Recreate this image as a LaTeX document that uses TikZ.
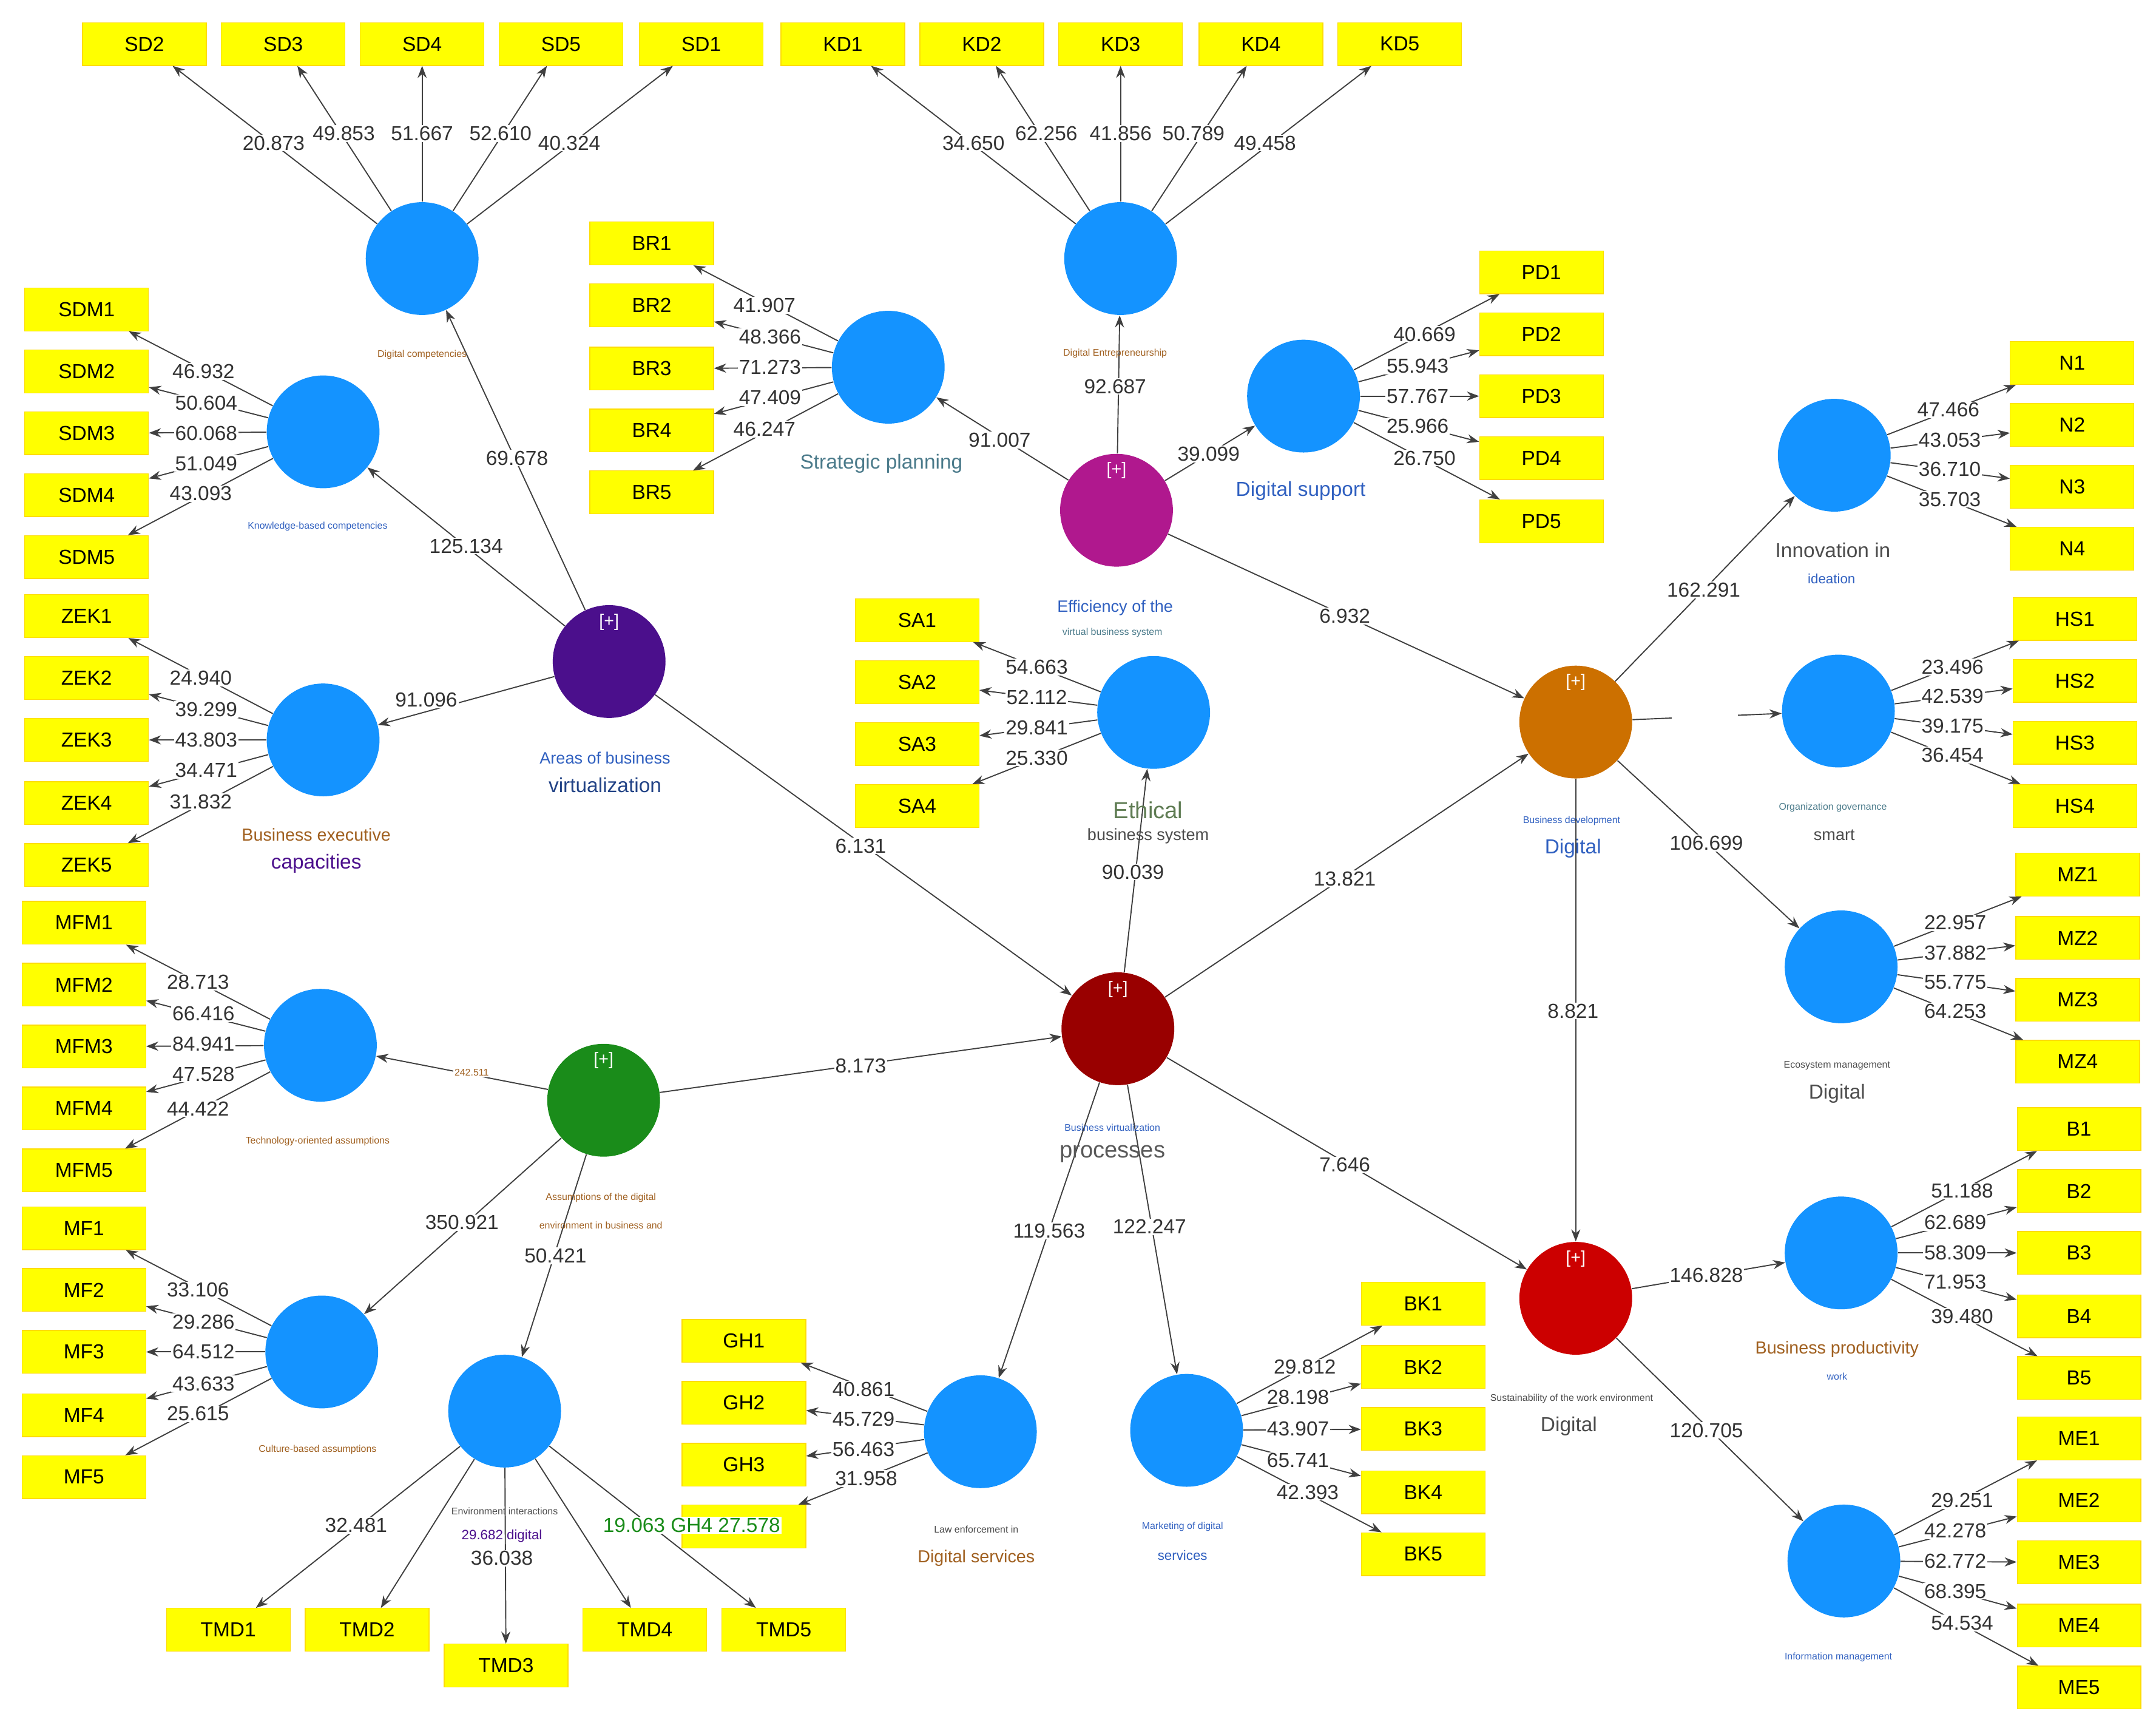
\documentclass[tikz,border=0pt]{standalone}
\usepackage{fontspec}
\setmainfont{Liberation Sans}
\usetikzlibrary{arrows.meta}
\definecolor{lvblue}{HTML}{1493FF}
\definecolor{effmag}{HTML}{B0188E}
\definecolor{areapur}{HTML}{4B0F8C}
\definecolor{bdorange}{HTML}{CC7000}
\definecolor{bvpred}{HTML}{990000}
\definecolor{asmgreen}{HTML}{1A8C1A}
\definecolor{susred}{HTML}{CC0000}
\definecolor{txtbrown}{HTML}{A06020}
\definecolor{txtblue}{HTML}{3060C0}
\definecolor{txtteal}{HTML}{4A7A8A}
\definecolor{boxyel}{HTML}{FFFF00}

\begin{document}
\begin{tikzpicture}
        [x=0.025cm, y=-0.025cm,
         lv/.style={circle,
                    inner sep=0pt,
                    minimum size=2.05cm,
                    fill=lvblue},
         mv/.style={rectangle,
                    inner sep=0pt,
                    minimum width=2.25cm,
                    minimum height=0.78cm,
                    draw=yellow!80!orange,
                    fill=boxyel,
                    font=\fontsize{10.5}{12}\selectfont},
         num/.style={fill=white, inner sep=0.6pt, font=\fontsize{10.5}{12}\selectfont, text=black!80},
         tiny lbl/.style={font=\fontsize{5}{6}\selectfont},
         big lbl/.style={font=\fontsize{10.5}{12}\selectfont},
         plus/.style={text=white, font=\fontsize{9}{10}\selectfont},
         arr/.style={-{Stealth[length=2.2mm]}, black!75, semithick}]

        \useasboundingbox (0,0) rectangle (1568,1256);

        % latent variables
        \node[lv] (DC) at (307,188) {};
        \node[lv] (KDE) at (815,188) {};
        \node[lv] (SP) at (646,267) {};
        \node[lv] (DS) at (948,288) {};
        \node[lv] (KBC) at (235,314) {};
        \node[lv, fill=effmag] (EFF) at (812,371) {};
        \node[lv, fill=areapur] (AREA) at (443,481) {};
        \node[lv] (INN) at (1334,331) {};
        \node[lv] (ETH) at (839,518) {};
        \node[lv, fill=bdorange] (BD) at (1146,525) {};
        \node[lv] (ORG) at (1337,517) {};
        \node[lv] (BEC) at (235,538) {};
        \node[lv] (ECO) at (1339,703) {};
        \node[lv, fill=bvpred] (BVP) at (813,748) {};
        \node[lv] (TECH) at (233,760) {};
        \node[lv, fill=asmgreen] (ASM) at (439,800) {};
        \node[lv, fill=susred] (SUS) at (1146,944) {};
        \node[lv] (BPR) at (1339,911) {};
        \node[lv] (CUL) at (234,983) {};
        \node[lv] (ENV) at (367,1026) {};
        \node[lv] (LAW) at (713,1041) {};
        \node[lv] (MKT) at (863,1040) {};
        \node[lv] (INF) at (1341,1135) {};

        % [+] marks
        \foreach \c in {EFF, AREA, BD, BVP, ASM, SUS}
                \node[plus] at ([yshift=0.72cm]\c.center) {[+]};

        % indicators
        \foreach \n/\x in {2/105, 3/206, 4/307, 5/408, 1/510}
                \node[mv] (SD\n) at (\x,32) {SD\n};
        \foreach \n/\x in {1/613, 2/714, 3/815, 4/917, 5/1018}
                \node[mv] (KD\n) at (\x,32) {KD\n};
        \foreach \n/\y in {1/177, 2/222, 3/268, 4/313, 5/358}
                \node[mv] (BR\n) at (474,\y) {BR\n};
        \foreach \n/\y in {1/198, 2/243, 3/288, 4/333, 5/379}
                \node[mv] (PD\n) at (1121,\y) {PD\n};
        \foreach \n/\y in {1/225, 2/270, 3/315, 4/360, 5/405}
                \node[mv] (SDM\n) at (63,\y) {SDM\n};
        \foreach \n/\y in {1/264, 2/309, 3/354, 4/399}
                \node[mv] (N\n) at (1507,\y) {N\n};
        \foreach \n/\y in {1/451, 2/496, 3/541, 4/586}
                \node[mv] (SA\n) at (667,\y) {SA\n};
        \foreach \n/\y in {1/450, 2/495, 3/540, 4/586}
                \node[mv] (HS\n) at (1509,\y) {HS\n};
        \foreach \n/\y in {1/448, 2/493, 3/538, 4/584, 5/629}
                \node[mv] (ZEK\n) at (63,\y) {ZEK\n};
        \foreach \n/\y in {1/636, 2/682, 3/727, 4/772}
                \node[mv] (MZ\n) at (1511,\y) {MZ\n};
        \foreach \n/\y in {1/671, 2/716, 3/761, 4/806, 5/851}
                \node[mv] (MFM\n) at (61,\y) {MFM\n};
        \foreach \n/\y in {1/821, 2/866, 3/911, 4/957, 5/1002}
                \node[mv] (B\n) at (1512,\y) {B\n};
        \foreach \n/\y in {1/893, 2/938, 3/983, 4/1029, 5/1074}
                \node[mv] (MF\n) at (61,\y) {MF\n};
        \foreach \n/\y in {1/948, 2/994, 3/1039, 4/1085, 5/1130}
                \node[mv] (BK\n) at (1035,\y) {BK\n};
        \foreach \n/\y in {1/975, 2/1020, 3/1065}
                \node[mv] (GH\n) at (541,\y) {GH\n};
        \node[mv] (GH4) at (541,1110) {};
        \foreach \n/\y in {1/1046, 2/1091, 3/1136, 4/1182, 5/1227}
                \node[mv] (ME\n) at (1512,\y) {ME\n};
        \foreach \n/\x/\y in {1/166/1185, 2/267/1185, 3/368/1211, 4/469/1185, 5/570/1185}
                \node[mv] (TMD\n) at (\x,\y) {TMD\n};

        % outer loadings
        \foreach \n/\x/\y/\v in {2/199/104/20.873, 3/250/97/49.853, 4/307/97/51.667, 5/364/97/52.610, 1/414/104/40.324}
                {\draw[arr] (DC) -- (SD\n); \node[num] at (\x,\y) {\v};}
        \foreach \n/\x/\y/\v in {1/708/104/34.650, 2/761/97/62.256, 3/815/97/41.856, 4/868/97/50.789, 5/920/104/49.458}
                {\draw[arr] (KDE) -- (KD\n); \node[num] at (\x,\y) {\v};}
        \foreach \n/\x/\y/\v in {1/556/222/41.907, 2/560/245/48.366, 3/560/267/71.273, 4/560/289/47.409, 5/556/312/46.247}
                {\draw[arr] (SP) -- (BR\n); \node[num] at (\x,\y) {\v};}
        \foreach \n/\x/\y/\v in {1/1036/243/40.669, 2/1031/266/55.943, 3/1031/288/57.767, 4/1031/310/25.966, 5/1036/333/26.750}
                {\draw[arr] (DS) -- (PD\n); \node[num] at (\x,\y) {\v};}
        \foreach \n/\x/\y/\v in {1/148/270/46.932, 2/150/293/50.604, 3/150/315/60.068, 4/150/337/51.049, 5/146/359/43.093}
                {\draw[arr] (KBC) -- (SDM\n); \node[num] at (\x,\y) {\v};}
        \foreach \n/\x/\y/\v in {1/1417/298/47.466, 2/1418/320/43.053, 3/1418/341/36.710, 4/1418/363/35.703}
                {\draw[arr] (INN) -- (N\n); \node[num] at (\x,\y) {\v};}
        \foreach \n/\x/\y/\v in {1/754/485/54.663, 2/754/507/52.112, 3/754/529/29.841, 4/754/551/25.330}
                {\draw[arr] (ETH) -- (SA\n); \node[num] at (\x,\y) {\v};}
        \foreach \n/\x/\y/\v in {1/1420/485/23.496, 2/1420/506/42.539, 3/1420/528/39.175, 4/1420/549/36.454}
                {\draw[arr] (ORG) -- (HS\n); \node[num] at (\x,\y) {\v};}
        \foreach \n/\x/\y/\v in {1/146/493/24.940, 2/150/516/39.299, 3/150/538/43.803, 4/150/560/34.471, 5/146/583/31.832}
                {\draw[arr] (BEC) -- (ZEK\n); \node[num] at (\x,\y) {\v};}
        \foreach \n/\x/\y/\v in {1/1422/671/22.957, 2/1422/693/37.882, 3/1422/714/55.775, 4/1422/735/64.253}
                {\draw[arr] (ECO) -- (MZ\n); \node[num] at (\x,\y) {\v};}
        \foreach \n/\x/\y/\v in {1/144/714/28.713, 2/148/737/66.416, 3/148/759/84.941, 4/148/781/47.528, 5/144/806/44.422}
                {\draw[arr] (TECH) -- (MFM\n); \node[num] at (\x,\y) {\v};}
        \foreach \n/\x/\y/\v in {1/1427/866/51.188, 2/1422/889/62.689, 3/1422/911/58.309, 4/1422/932/71.953, 5/1427/957/39.480}
                {\draw[arr] (BPR) -- (B\n); \node[num] at (\x,\y) {\v};}
        \foreach \n/\x/\y/\v in {1/144/938/33.106, 2/148/961/29.286, 3/148/983/64.512, 4/148/1006/43.633, 5/144/1028/25.615}
                {\draw[arr] (CUL) -- (MF\n); \node[num] at (\x,\y) {\v};}
        \foreach \n/\x/\y/\v in {1/949/994/29.812, 2/944/1016/28.198, 3/944/1039/43.907, 4/944/1062/65.741, 5/951/1085/42.393}
                {\draw[arr] (MKT) -- (BK\n); \node[num] at (\x,\y) {\v};}
        \foreach \n/\x/\y/\v in {1/628/1010/40.861, 2/628/1032/45.729, 3/628/1054/56.463, 4/630/1075/31.958}
                {\draw[arr] (LAW) -- (GH\n); \node[num] at (\x,\y) {\v};}
        \foreach \n/\x/\y/\v in {1/1427/1091/29.251, 2/1422/1113/42.278, 3/1422/1135/62.772, 4/1422/1157/68.395, 5/1427/1180/54.534}
                {\draw[arr] (INF) -- (ME\n); \node[num] at (\x,\y) {\v};}
        \foreach \n in {1,...,5}
                \draw[arr] (ENV) -- (TMD\n);
        \node[num] at (259,1109) {32.481};
        \node[num] at (365,1133) {36.038};
        \node[num, text=asmgreen] at (503,1109) {19.063 GH4 27.578};

        % inner model
        \foreach \a/\b/\x/\y/\v in {AREA/DC/376/333/69.678, AREA/KBC/339/397/125.134, AREA/BEC/310/509/91.096,
                                    AREA/BVP/626/615/6.131, EFF/SP/727/320/91.007, EFF/KDE/811/281/92.687,
                                    EFF/DS/879/330/39.099, EFF/BD/978/448/6.932, BD/INN/1239/429/162.291,
                                    BD/ECO/1241/613/106.699, BD/SUS/1144/735/8.821, BVP/BD/978/639/13.821,
                                    BVP/ETH/824/634/90.039, BVP/SUS/978/847/7.646, BVP/LAW/763/895/119.563,
                                    BVP/MKT/836/892/122.247, ASM/BVP/626/775/8.173, ASM/CUL/336/889/350.921,
                                    ASM/ENV/404/913/50.421, SUS/BPR/1241/927/146.828, SUS/INF/1241/1040/120.705}
                {\draw[arr] (\a) -- (\b); \node[num] at (\x,\y) {\v};}
        \draw[arr] (BD) -- (ORG);
        \node[fill=white, minimum width=1.2cm, minimum height=0.4cm] at (1240,520) {};
        \draw[arr] (ASM) -- (TECH);
        \node[num, text=txtbrown, font=\fontsize{5}{6}\selectfont] at (343,780) {242.511};

        % construct names
        \node[tiny lbl, text=txtbrown] at (307,258) {Digital competencies};
        \node[tiny lbl, text=txtbrown] at (811,257) {Digital Entrepreneurship};
        \node[big lbl, text=txtteal] at (641,337) {Strategic planning};
        \node[big lbl, text=txtblue] at (946,357) {Digital support};
        \node[tiny lbl, text=txtblue] at (231,383) {Knowledge-based competencies};
        \node[font=\fontsize{8.5}{10}\selectfont, text=txtblue] at (811,442) {Efficiency of the};
        \node[tiny lbl, text=txtteal] at (809,460) {virtual business system};
        \node[font=\fontsize{8.5}{10}\selectfont, text=txtblue] at (440,551) {Areas of business};
        \node[big lbl, text=txtblue!70!black] at (440,571) {virtualization};
        \node[big lbl, text=black!70] at (1333,400) {Innovation in};
        \node[font=\fontsize{7}{8}\selectfont, text=txtblue] at (1332,421) {ideation};
        \node[font=\fontsize{12}{14}\selectfont, text=txtteal!60!olive] at (835,589) {Ethical};
        \node[font=\fontsize{8.5}{10}\selectfont, text=black!70] at (835,608) {business system};
        \node[tiny lbl, text=txtblue] at (1143,597) {Business development};
        \node[big lbl, text=txtblue] at (1144,617) {Digital};
        \node[tiny lbl, text=txtteal] at (1333,587) {Organization governance};
        \node[font=\fontsize{8.5}{10}\selectfont, text=black!70] at (1334,607) {smart};
        \node[font=\fontsize{9}{10}\selectfont, text=txtbrown] at (230,607) {Business executive};
        \node[big lbl, text=areapur] at (230,628) {capacities};
        \node[tiny lbl, text=black!70] at (1336,775) {Ecosystem management};
        \node[big lbl, text=black!70] at (1336,795) {Digital};
        \node[tiny lbl, text=txtblue] at (809,820) {Business virtualization};
        \node[font=\fontsize{12}{14}\selectfont, text=black!65] at (809,839) {processes};
        \node[tiny lbl, text=txtbrown] at (231,830) {Technology-oriented assumptions};
        \node[tiny lbl, text=txtbrown] at (437,871) {Assumptions of the digital};
        \node[tiny lbl, text=txtbrown] at (437,891) {environment in business and};
        \node[tiny lbl, text=black!70] at (1143,1017) {Sustainability of the work environment};
        \node[big lbl, text=black!70] at (1141,1037) {Digital};
        \node[font=\fontsize{9}{10}\selectfont, text=txtbrown] at (1336,981) {Business productivity};
        \node[tiny lbl, text=txtblue] at (1336,1001) {work};
        \node[tiny lbl, text=txtbrown] at (231,1054) {Culture-based assumptions};
        \node[tiny lbl, text=black!70] at (367,1099) {Environment interactions};
        \node[font=\fontsize{7}{8}\selectfont, text=areapur] at (365,1117) {29.682 digital};
        \node[tiny lbl, text=black!70] at (710,1112) {Law enforcement in};
        \node[font=\fontsize{9}{10}\selectfont, text=txtbrown] at (710,1133) {Digital services};
        \node[tiny lbl, text=txtblue] at (860,1110) {Marketing of digital};
        \node[font=\fontsize{7}{8}\selectfont, text=txtblue] at (860,1131) {services};
        \node[tiny lbl, text=txtblue] at (1337,1205) {Information management};
\end{tikzpicture}
\end{document}
